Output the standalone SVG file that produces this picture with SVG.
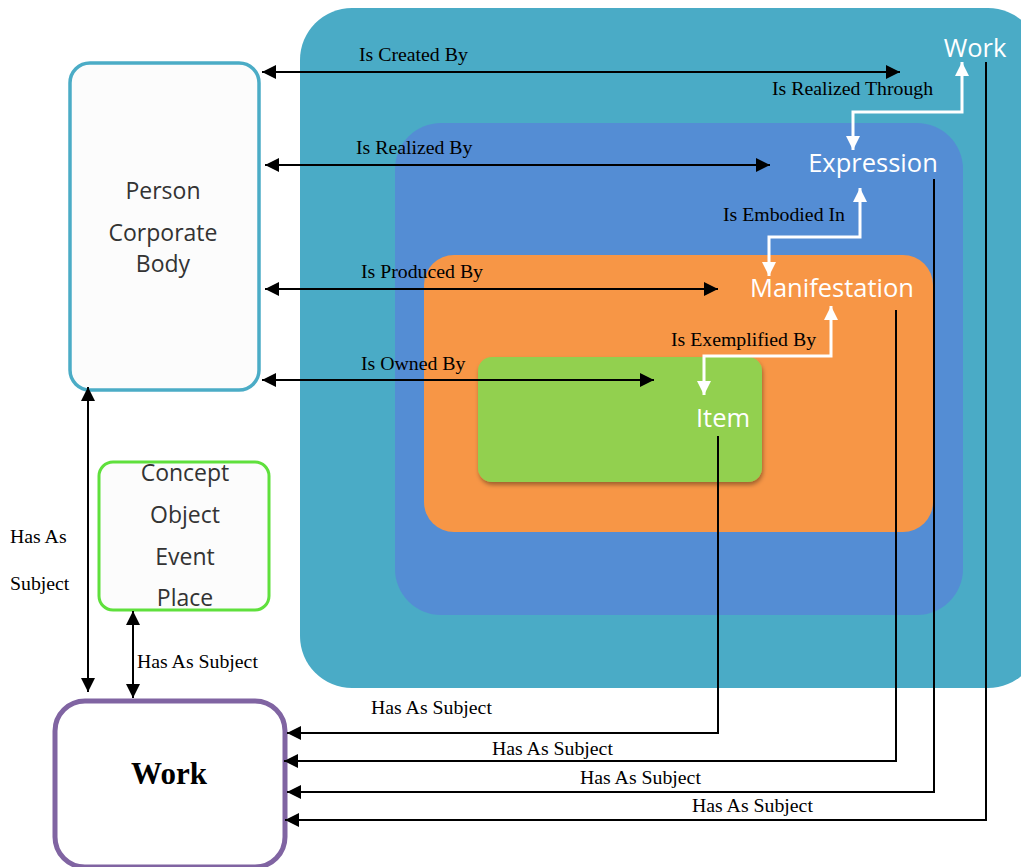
<svg xmlns="http://www.w3.org/2000/svg" width="1021" height="867" viewBox="0 0 1021 867">
<style>
.lbl{font-family:"Liberation Serif",serif;font-size:19.8px;fill:#000}
.ent{font-family:"Open Sans","Noto Sans",sans-serif;font-size:23px;fill:#333;text-anchor:middle}
.wl{font-family:"Open Sans","Noto Sans",sans-serif;font-size:25.5px;fill:#fff;text-anchor:middle}
.ln{fill:none;stroke:#000;stroke-width:2}
.wln{fill:none;stroke:#fff;stroke-width:3}
</style>
<defs>
<marker id="ah" viewBox="0 0 10 10" refX="10" refY="5" markerWidth="14" markerHeight="14" markerUnits="userSpaceOnUse" orient="auto-start-reverse"><path d="M0,0 L10,5 L0,10 z" fill="#000"/></marker>
<marker id="wh" viewBox="0 0 10 10" refX="10" refY="5" markerWidth="14" markerHeight="14" markerUnits="userSpaceOnUse" orient="auto-start-reverse"><path d="M0,0 L10,5 L0,10 z" fill="#fff"/></marker>
<filter id="sh" x="-10%" y="-10%" width="120%" height="130%"><feDropShadow dx="1" dy="3" stdDeviation="2" flood-color="#000" flood-opacity="0.35"/></filter>
</defs>
<g id="work-group">
<rect x="300" y="8" width="740" height="680" rx="52" fill="#4AABC6"/>
<text class="wl" x="975" y="57">Work</text>
</g>
<g id="expression-group">
<rect x="395" y="123" width="568" height="492" rx="46" fill="#548DD4"/>
<text class="wl" x="873" y="172">Expression</text>
</g>
<g id="manifestation-group">
<rect x="424" y="255" width="509" height="277" rx="30" fill="#F79646"/>
<text class="wl" x="832" y="297">Manifestation</text>
</g>
<g id="item-group">
<rect x="478" y="357" width="284" height="125" rx="14" fill="#92D050" filter="url(#sh)"/>
<text class="wl" x="723" y="427">Item</text>
</g>
<g id="person">
<rect x="70" y="63" width="189" height="327" rx="20" fill="#FCFCFC" stroke="#4BACC6" stroke-width="3.5"/>
<text class="ent" x="163" y="199">Person</text>
<text class="ent" x="163" y="241">Corporate</text>
<text class="ent" x="163" y="272">Body</text>
</g>
<g id="subjects">
<rect x="99" y="462" width="170" height="148" rx="14" fill="#FCFCFC" stroke="#5FE03C" stroke-width="3"/>
<text class="ent" x="185" y="481">Concept</text>
<text class="ent" x="185" y="523">Object</text>
<text class="ent" x="185" y="565">Event</text>
<text class="ent" x="185" y="606">Place</text>
</g>
<g id="work">
<rect x="55" y="701" width="230" height="166" rx="30" fill="#fff" stroke="#8064A2" stroke-width="5"/>
<text x="169" y="784" font-family="Liberation Serif,serif" font-size="31" font-weight="bold" text-anchor="middle">Work</text>
</g>
<g id="connectors">
<path class="ln" d="M262,72 H900" marker-start="url(#ah)" marker-end="url(#ah)"/>
<path class="ln" d="M265,165 H770" marker-start="url(#ah)" marker-end="url(#ah)"/>
<path class="ln" d="M265,289 H718" marker-start="url(#ah)" marker-end="url(#ah)"/>
<path class="ln" d="M262,380 H654" marker-start="url(#ah)" marker-end="url(#ah)"/>
<path class="wln" d="M962,62 V112 H853 V150" marker-start="url(#wh)" marker-end="url(#wh)"/>
<path class="wln" d="M860,188 V237 H769 V276" marker-start="url(#wh)" marker-end="url(#wh)"/>
<path class="wln" d="M831,306 V356 H704 V395" marker-start="url(#wh)" marker-end="url(#wh)"/>
<path class="ln" d="M718,436 V733 H287" marker-end="url(#ah)" stroke-width="1.5"/>
<path class="ln" d="M896,310 V761 H284" marker-end="url(#ah)"/>
<path class="ln" d="M934,179 V792 H287" marker-end="url(#ah)" stroke-width="1.5"/>
<path class="ln" d="M986,62 V820 H285" marker-end="url(#ah)"/>
<path class="ln" d="M88,387 V692" marker-start="url(#ah)" marker-end="url(#ah)" stroke-width="1.5"/>
<path class="ln" d="M133,611 V698" marker-start="url(#ah)" marker-end="url(#ah)"/>
<text class="lbl" x="359" y="61">Is Created By</text>
<text class="lbl" x="356" y="154">Is Realized By</text>
<text class="lbl" x="361" y="278">Is Produced By</text>
<text class="lbl" x="361" y="370">Is Owned By</text>
<text class="lbl" x="772" y="95">Is Realized Through</text>
<text class="lbl" x="723" y="221">Is Embodied In</text>
<text class="lbl" x="671" y="346">Is Exemplified By</text>
<text class="lbl" x="10" y="543">Has As</text>
<text class="lbl" x="10" y="590">Subject</text>
<text class="lbl" x="137" y="668">Has As Subject</text>
<text class="lbl" x="371" y="714">Has As Subject</text>
<text class="lbl" x="492" y="755">Has As Subject</text>
<text class="lbl" x="580" y="784">Has As Subject</text>
<text class="lbl" x="692" y="812">Has As Subject</text>
</g>
</svg>
